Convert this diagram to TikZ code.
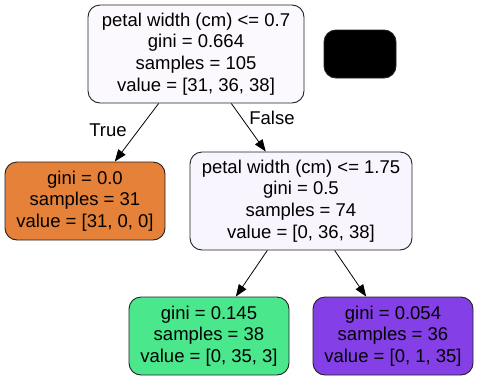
\documentclass[tikz,border=0pt]{standalone}
\usepackage{fontspec}
\setmainfont{Liberation Sans}
\usetikzlibrary{arrows.meta,positioning}

\definecolor{rootfill}{HTML}{FBF9FE}
\definecolor{splitfill}{HTML}{F8F5FE}
\definecolor{orangeleaf}{HTML}{E58139}
\definecolor{greenleaf}{HTML}{4AE78C}
\definecolor{purpleleaf}{HTML}{853FE6}
\definecolor{edgegray}{HTML}{222222}

\begin{document}
\begin{tikzpicture}
        [x=1pt, y=-1pt,
          treenode/.style={draw=edgegray, line width=0.9pt, rounded corners=12pt, align=center,
            inner sep=0pt, font=\fontsize{18.5}{21.7}\selectfont},
          leafnode/.style={treenode, minimum width=160pt, minimum height=78pt},
          splitnode/.style={treenode, minimum height=98pt},
          treeedge/.style={-{Triangle[length=12pt,width=9pt]}, line width=0.8pt},
          edgelabel/.style={font=\fontsize{18.5}{21.7}\selectfont, inner sep=0pt}]
        \useasboundingbox (0,0) rectangle (479,381);
        \node[splitnode, fill=rootfill, minimum width=216pt] (root) at (196,54)
          {petal width (cm) <= 0.7\\gini = 0.664\\samples = 105\\value = [31, 36, 38]};
        \node[treenode, fill=black, minimum width=72pt, minimum height=48pt] (hidden) at (360,54) {};
        \node[leafnode, fill=orangeleaf] (leafsetosa) at (85,201)
          {gini = 0.0\\samples = 31\\value = [31, 0, 0]};
        \node[splitnode, fill=splitfill, minimum width=222pt] (split) at (301,201)
          {petal width (cm) <= 1.75\\gini = 0.5\\samples = 74\\value = [0, 36, 38]};
        \node[leafnode, fill=greenleaf] (leafversicolor) at (209,336)
          {gini = 0.145\\samples = 38\\value = [0, 35, 3]};
        \node[leafnode, fill=purpleleaf] (leafvirginica) at (393,336)
          {gini = 0.054\\samples = 36\\value = [0, 1, 35]};
        \draw[treeedge] (root) -- (leafsetosa);
        \draw[treeedge] (root) -- (split);
        \draw[treeedge] (split) -- (leafversicolor);
        \draw[treeedge] (split) -- (leafvirginica);
        \node[edgelabel] (labeltrue) at (108,130) {True};
        \node[edgelabel] (labelfalse) at (272,118) {False};
      \end{tikzpicture}
\end{document}
